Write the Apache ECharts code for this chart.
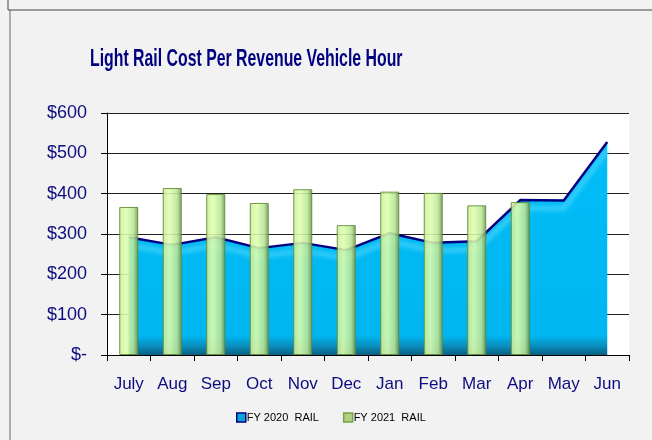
<!DOCTYPE html>
<html>
<head>
<meta charset="utf-8">
<script src="https://cdn.jsdelivr.net/npm/echarts@6/dist/echarts.min.js"></script>
<style>
  html, body { margin: 0; padding: 0; background: #f2f2f2; }
  #chart { width: 652px; height: 440px; }
</style>
</head>
<body>
<div id="chart"></div>
<script>
// chart data
var months = ['July', 'Aug', 'Sep', 'Oct', 'Nov', 'Dec', 'Jan', 'Feb', 'Mar', 'Apr', 'May', 'Jun'];
var fy2020 = [292, 273, 292, 265, 278, 260, 302, 278, 282, 384, 383, 528];
var fy2021 = [367, 414, 399, 377, 411, 322, 405, 402, 371, 379, null, null];
var yTicks = [0, 100, 200, 300, 400, 500, 600];

var font = "'Liberation Sans', Arial, sans-serif";
var navy = '#0d0d80';

var chart = echarts.init(document.getElementById('chart'));

chart.setOption({
  backgroundColor: '#f2f2f2',
  animation: false,
  legend: {
    bottom: 12,
    left: 231,
    itemWidth: 9,
    itemHeight: 9,
    itemGap: 24,
    textStyle: { fontFamily: font, fontSize: 11, color: '#000', padding: [0, 0, 0, -4] },
    data: [
      { name: 'FY 2020  RAIL', icon: 'rect', itemStyle: { color: '#0aa6d8', borderColor: '#000080', borderWidth: 1.5 } },
      { name: 'FY 2021  RAIL', icon: 'rect', itemStyle: { color: '#a8cc70', borderColor: '#6a9a3a', borderWidth: 1.5 } }
    ]
  },
  grid: { left: 107, right: 23, top: 113, bottom: 85, backgroundColor: '#ffffff', show: true, borderWidth: 0 },
  xAxis: {
    type: 'category',
    data: months,
    boundaryGap: true,
    axisLine: { lineStyle: { color: '#000', width: 1 } },
    axisTick: { show: true, length: 6, lineStyle: { color: '#000' } },
    axisLabel: { interval: 0, margin: 21, fontFamily: font, fontSize: 17, color: navy }
  },
  yAxis: {
    type: 'value',
    min: yTicks[0],
    max: yTicks[yTicks.length - 1],
    interval: 100,
    axisLine: { show: true, lineStyle: { color: '#000', width: 1 } },
    axisTick: { show: true, length: 6, lineStyle: { color: '#000' } },
    axisLabel: {
      margin: 20,
      fontFamily: font,
      fontSize: 18,
      color: navy,
      formatter: function (v) { return v === 0 ? '$-' : '$' + v; }
    },
    splitLine: { lineStyle: { color: '#222', width: 1 } }
  },
  series: [
    {
      name: 'FY 2020  RAIL',
      type: 'line',
      data: fy2020,
      symbol: 'none',
      z: 2,
      lineStyle: {
        color: '#000080',
        width: 2.5,
        shadowColor: 'rgba(110, 228, 255, 1)',
        shadowBlur: 5,
        shadowOffsetY: 8
      },
      areaStyle: {
        opacity: 1,
        color: new echarts.graphic.LinearGradient(0, 0, 0, 1, [
          { offset: 0, color: '#00bdf8' },
          { offset: 0.91, color: '#00b6f0' },
          { offset: 0.96, color: '#0a8cba' },
          { offset: 1, color: '#0b5f80' }
        ])
      }
    },
    {
      name: 'FY 2021  RAIL',
      type: 'bar',
      data: fy2021,
      barWidth: 19,
      z: 3,
      itemStyle: {
        opacity: 0.88,
        borderColor: '#5f8a32',
        borderWidth: 1,
        color: new echarts.graphic.LinearGradient(0, 0, 1, 0, [
          { offset: 0, color: '#c8ec98' },
          { offset: 0.35, color: '#e0ffae' },
          { offset: 0.75, color: '#b8e696' },
          { offset: 1, color: '#6e8f52' }
        ])
      }
    }
  ],
  graphic: [
    {
      type: 'text',
      x: 90,
      y: 47,
      scaleX: 0.66,
      style: {
        text: 'Light Rail Cost Per Revenue Vehicle Hour',
        fontFamily: font,
        fontSize: 24,
        fontWeight: 'bold',
        fill: '#000080',
        textVerticalAlign: 'top'
      }
    },
    { type: 'line', shape: { x1: 8, y1: 0, x2: 8, y2: 10 }, style: { stroke: '#444', lineWidth: 1 } },
    { type: 'line', shape: { x1: 8, y1: 10, x2: 652, y2: 10 }, style: { stroke: '#444', lineWidth: 1 } },
    { type: 'line', shape: { x1: 10, y1: 10, x2: 10, y2: 440 }, style: { stroke: '#666', lineWidth: 1 } }
  ]
});
</script>
</body>
</html>
